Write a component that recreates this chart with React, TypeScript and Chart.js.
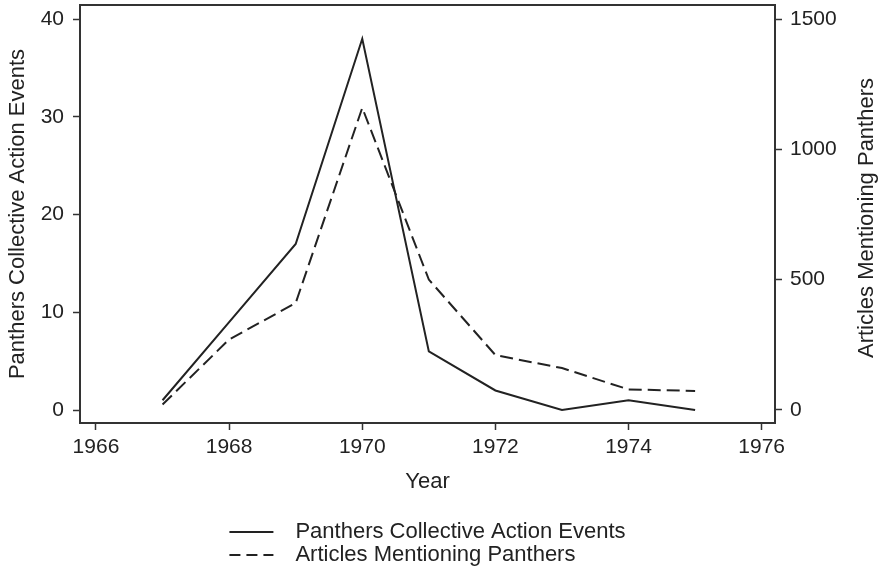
import React, { useEffect, useRef } from "react";
import { Chart, registerables } from "chart.js";

Chart.register(...registerables);

// ---- data ----
const years = [1967, 1968, 1969, 1970, 1971, 1972, 1973, 1974, 1975];
const eventsSeries = [1, 9, 17, 38, 6, 2, 0, 1, 0];
const articlesSeries = [20, 270, 410, 1160, 500, 210, 160, 78, 72];
const xTickValues = [1966, 1968, 1970, 1972, 1974, 1976];
const leftTickValues = [0, 10, 20, 30, 40];
const rightTickValues = [0, 500, 1000, 1500];
const seriesLabels = ["Panthers Collective Action Events", "Articles Mentioning Panthers"];
const xTitle = "Year";
const leftTitle = "Panthers Collective Action Events";
const rightTitle = "Articles Mentioning Panthers";

// ---- style ----
const INK = "#222222";
const AXIS = "#333333";
const FAMILY = "'Liberation Sans Narrow', 'Arial Narrow', 'Liberation Sans', Arial, sans-serif";
const FS = 22;
const TFS = 21;
const font = { family: FAMILY, size: FS, weight: "normal" as const };
const tickFont = { family: FAMILY, size: TFS, weight: "normal" as const };

const setTicks = (vals: number[]) => (scale: any) => {
  scale.ticks = vals.map((v) => ({ value: v }));
};

const decorPlugin = {
  id: "decor",
  beforeDatasetsDraw(chart: any) {
    const { ctx, chartArea: a } = chart;
    ctx.save();
    ctx.strokeStyle = AXIS;
    ctx.lineWidth = 2;
    ctx.strokeRect(a.left, a.top, a.right - a.left, a.bottom - a.top);
    ctx.restore();
  },
  afterDraw(chart: any) {
    const { ctx, chartArea: a } = chart;
    ctx.save();
    ctx.font = `${FS}px ${FAMILY}`;
    ctx.fillStyle = INK;
    // right axis title, reading bottom-to-top
    ctx.save();
    ctx.translate(chart.width - 12, (a.top + a.bottom) / 2 + 4);
    ctx.rotate(-Math.PI / 2);
    ctx.textAlign = "center";
    ctx.textBaseline = "middle";
    ctx.fillText(rightTitle, 0, 0);
    ctx.restore();

    // legend (stacked rows)
    const sampleLen = 44;
    const gap = 22;
    const ds = chart.data.datasets;
    let maxW = 0;
    ds.forEach((d: any) => {
      maxW = Math.max(maxW, ctx.measureText(d.label).width);
    });
    const blockW = sampleLen + gap + maxW;
    const x0 = (a.left + a.right) / 2 - blockW / 2;
    const rowY0 = a.bottom + 109;
    const rowH = 23;
    ds.forEach((d: any, i: number) => {
      const y = rowY0 + i * rowH;
      ctx.save();
      ctx.strokeStyle = d.borderColor;
      ctx.lineWidth = 2;
      ctx.setLineDash(d.borderDash && d.borderDash.length ? [11, 6] : []);
      ctx.beginPath();
      ctx.moveTo(x0, y);
      ctx.lineTo(x0 + sampleLen, y);
      ctx.stroke();
      ctx.restore();
      ctx.textAlign = "left";
      ctx.textBaseline = "middle";
      ctx.fillText(d.label, x0 + sampleLen + gap, y);
    });
    ctx.restore();
  },
};

export default function App() {
  const ref = useRef<HTMLCanvasElement | null>(null);
  useEffect(() => {
    if (!ref.current) return;
    const chart = new Chart(ref.current, {
      type: "line",
      data: {
        datasets: [
          {
            label: seriesLabels[0],
            data: years.map((y, i) => ({ x: y, y: eventsSeries[i] })),
            yAxisID: "y",
            borderColor: INK,
            borderWidth: 2,
            pointRadius: 0,
            tension: 0,
            fill: false,
          },
          {
            label: seriesLabels[1],
            data: years.map((y, i) => ({ x: y, y: articlesSeries[i] })),
            yAxisID: "y1",
            borderColor: INK,
            borderWidth: 2,
            borderDash: [13, 6],
            pointRadius: 0,
            tension: 0,
            fill: false,
          },
        ],
      },
      options: {
        animation: false,
        responsive: true,
        maintainAspectRatio: false,
        layout: { padding: { top: 5, bottom: 79, left: 0, right: 0 } },
        plugins: { legend: { display: false }, tooltip: { enabled: false } },
        scales: {
          x: {
            type: "linear",
            min: 1965.76,
            max: 1976.2,
            afterBuildTicks: setTicks(xTickValues),
            afterFit: (s: any) => {
              s.height = 76;
              s.paddingLeft = 0;
              s.paddingRight = 0;
            },
            ticks: { font: tickFont, color: INK, padding: 5, callback: (v: any) => String(v), maxRotation: 0, autoSkip: false },
            grid: { drawOnChartArea: false, drawTicks: true, tickLength: 7, tickColor: AXIS, tickWidth: 1.5 },
            border: { display: false },
            title: { display: true, text: xTitle, font, color: INK, padding: { top: 0, bottom: 4 } },
          },
          y: {
            type: "linear",
            position: "left",
            min: -1.33,
            max: 41.46,
            afterBuildTicks: setTicks(leftTickValues),
            afterFit: (s: any) => {
              s.width = 80;
              s.paddingTop = 0;
              s.paddingBottom = 0;
            },
            ticks: { font: tickFont, color: INK, padding: 9, callback: (v: any) => String(v) },
            grid: { drawOnChartArea: false, drawTicks: true, tickLength: 7, tickColor: AXIS, tickWidth: 1.5 },
            border: { display: false },
            title: { display: true, text: leftTitle, font, color: INK, padding: { top: 5, bottom: 0 } },
          },
          y1: {
            type: "linear",
            position: "right",
            min: -51,
            max: 1555,
            afterBuildTicks: setTicks(rightTickValues),
            afterFit: (s: any) => {
              s.width = 104;
              s.paddingTop = 0;
              s.paddingBottom = 0;
            },
            ticks: { font: tickFont, color: INK, padding: 8, callback: (v: any) => String(v) },
            grid: { drawOnChartArea: false, drawTicks: true, tickLength: 7, tickColor: AXIS, tickWidth: 1.5 },
            border: { display: false },
            title: { display: false },
          },
        },
      },
      plugins: [decorPlugin],
    });
    return () => chart.destroy();
  }, []);

  return (
    <div style={{ position: "fixed", left: 0, top: 0, width: 879, height: 578, background: "#fff" }}>
      <canvas ref={ref} />
    </div>
  );
}
